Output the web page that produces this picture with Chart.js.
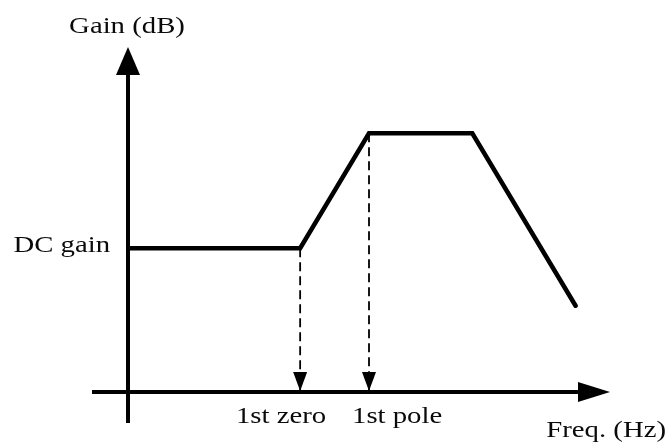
<!DOCTYPE html>
<html>
<head>
<meta charset="utf-8">
<script src="https://cdn.jsdelivr.net/npm/chart.js@4/dist/chart.umd.min.js"></script>
<style>
html, body {
	margin: 0;
	padding: 0;
	background: #fff;
	overflow: hidden;
}
canvas {
	display: block;
}
</style>
</head>
<body>
<canvas id="chart" width="668" height="442"></canvas>
<script>
// asymptotic Bode magnitude, x in arbitrary log-frequency units, y in dB
const responseFreqs = [0, 5, 7, 10, 13];
const responseGain = [25, 25, 45, 45, 15];
const cornerFreqs = [5, 7];
const cornerLabels = ['1st zero', '1st pole'];
const dcGain = 25;
const dcLabel = 'DC gain';
const xTitle = 'Freq. (Hz)';
const yTitle = 'Gain (dB)';
const xRange = [0, 14];
const yRange = [0, 60];

const ink = '#000';
const font = '23px "Liberation Serif", "Times New Roman", serif';
const stretch = 1.25;

function gainAt(freq)
{
	return responseGain[responseFreqs.indexOf(freq)];
}

function text(ctx, str, x, y, align)
{
	ctx.save();
	ctx.font = font;
	ctx.fillStyle = '#0a0a0a';
	ctx.textBaseline = 'alphabetic';
	const w = ctx.measureText(str).width * stretch;
	let left = x;
	if (align === 'center')
		left = x - w / 2;
	else if (align === 'right')
		left = x - w;
	ctx.translate(left, y);
	ctx.scale(stretch, 1);
	ctx.fillText(str, 0, 0);
	ctx.restore();
}

function triangle(ctx, tip, a, b)
{
	ctx.beginPath();
	ctx.moveTo(tip[0], tip[1]);
	ctx.lineTo(a[0], a[1]);
	ctx.lineTo(b[0], b[1]);
	ctx.closePath();
	ctx.fill();
}

const axesPlugin = {
	id: 'bodeAxes',
	afterDatasetsDraw(chart)
	{
		const ctx = chart.ctx;
		const x = chart.scales.x;
		const y = chart.scales.y;
		const x0 = x.getPixelForValue(0);
		const y0 = y.getPixelForValue(0);
		const xEnd = x.getPixelForValue(xRange[1]);
		const yEnd = y.getPixelForValue(yRange[1]);

		ctx.save();
		ctx.strokeStyle = ink;
		ctx.fillStyle = ink;
		ctx.lineWidth = 4;
		ctx.lineCap = 'butt';

		// y axis
		ctx.beginPath();
		ctx.moveTo(x0, y0 + 31);
		ctx.lineTo(x0, yEnd + 20);
		ctx.stroke();
		triangle(ctx, [x0, yEnd], [x0 - 12, yEnd + 28], [x0 + 12, yEnd + 28]);

		// x axis
		ctx.beginPath();
		ctx.moveTo(x0 - 36, y0);
		ctx.lineTo(xEnd - 24, y0);
		ctx.stroke();
		triangle(ctx, [xEnd, y0], [xEnd - 32, y0 - 10], [xEnd - 32, y0 + 10]);

		// arrowheads of the corner markers
		cornerFreqs.forEach(f =>
		{
			const px = x.getPixelForValue(f);
			triangle(ctx, [px, y0 - 1], [px - 7, y0 - 20], [px + 7, y0 - 20]);
		});
		ctx.restore();

		text(ctx, yTitle, x0 - 1, yEnd - 14, 'center');
		text(ctx, dcLabel, x0 - 18, y.getPixelForValue(dcGain) + 4, 'right');
		text(ctx, cornerLabels[0], x.getPixelForValue(cornerFreqs[0]) + 26, y0 + 31, 'right');
		text(ctx, cornerLabels[1], x.getPixelForValue(cornerFreqs[1]) - 17, y0 + 31, 'left');
		text(ctx, xTitle, xEnd + 56, y0 + 45, 'right');
	}
};

const datasets = [{
	label: 'Gain',
	data: responseFreqs.map((f, i) => ({x: f, y: responseGain[i]})),
	borderColor: ink,
	borderWidth: 4.5,
	borderCapStyle: 'round',
	borderJoinStyle: 'miter',
	pointRadius: 0,
	tension: 0,
	fill: false
}];

cornerFreqs.forEach((f, i) =>
	datasets.push({
		label: cornerLabels[i],
		data: [{x: f, y: gainAt(f)}, {x: f, y: 0}],
		borderColor: ink,
		borderWidth: 1.8,
		borderDash: [9, 5],
		pointRadius: 0,
		fill: false
	}));

new Chart(document.getElementById('chart'), {
	type: 'line',
	data: {datasets},
	options: {
		responsive: false,
		animation: false,
		layout: {padding: {left: 128, right: 58, top: 47, bottom: 50}},
		plugins: {legend: {display: false}, tooltip: {enabled: false}},
		scales: {
			x: {type: 'linear', min: xRange[0], max: xRange[1], display: false},
			y: {type: 'linear', min: yRange[0], max: yRange[1], display: false}
		}
	},
	plugins: [axesPlugin]
});
</script>
</body>
</html>
